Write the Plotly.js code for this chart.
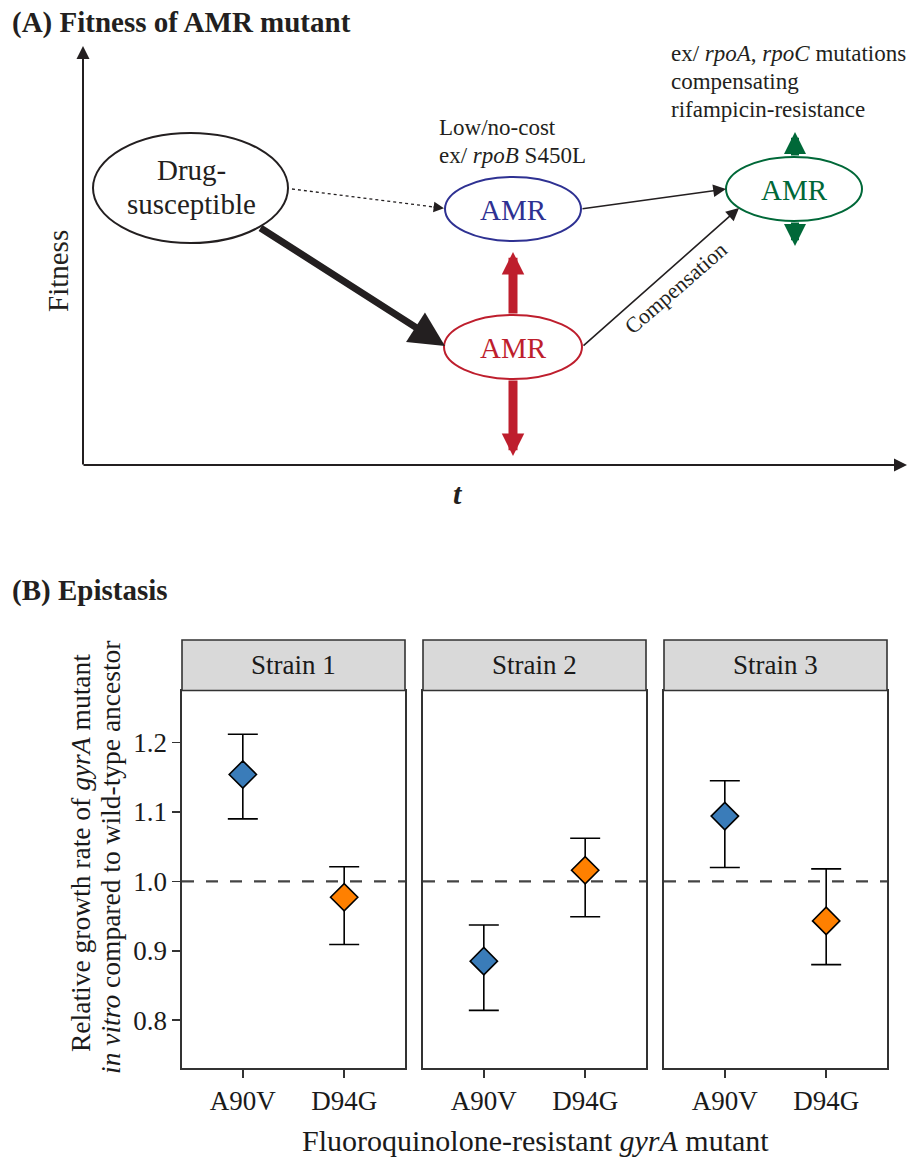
<!DOCTYPE html>
<html><head><meta charset="utf-8">
<script src="https://cdn.plot.ly/plotly-3.0.1.min.js"></script>
<style>html,body{margin:0;padding:0;background:#fff}</style>
</head><body><div id="chart" style="width:915px;height:1161px"></div>
<script>
// ---- Panel B data ----
const strains = ['Strain 1', 'Strain 2', 'Strain 3'];
const mutants = ['A90V', 'D94G'];
const a90vMean = [1.154, 0.885, 1.094];
const a90vLow  = [1.090, 0.814, 1.020];
const a90vHigh = [1.212, 0.937, 1.145];
const d94gMean = [0.977, 1.016, 0.943];
const d94gLow  = [0.909, 0.949, 0.880];
const d94gHigh = [1.021, 1.062, 1.018];
const mutantColors = ['#3a7cb9', '#ff8000'];
const yTickVals = [0.8, 0.9, 1.0, 1.1, 1.2];
const yTickText = ['0.8', '0.9', '1.0', '1.1', '1.2'];
const referenceLevel = 1.0;

const SERIF = 'Liberation Serif, Times New Roman, serif';
const W = 915, H = 1161;
const px = v => v / W;
const py = v => 1 - v / H;

// facet geometry (pixels)
const panelX = [[182, 405], [423, 646], [664, 887]];
const panelTop = 690.5, panelBottom = 1068, stripTop = 640;

const traces = [];
strains.forEach((s, i) => {
  const sfx = i === 0 ? '' : String(i + 1);
  const means = [a90vMean[i], d94gMean[i]];
  const lows = [a90vLow[i], d94gLow[i]];
  const highs = [a90vHigh[i], d94gHigh[i]];
  traces.push({
    type: 'scatter', mode: 'markers',
    x: mutants, y: means,
    xaxis: 'x' + sfx, yaxis: 'y' + sfx,
    marker: { symbol: 'diamond', size: 21, color: mutantColors, line: { color: '#000', width: 1.6 } },
    error_y: {
      type: 'data', symmetric: false,
      array: highs.map((h, k) => h - means[k]),
      arrayminus: means.map((m, k) => m - lows[k]),
      color: '#000', thickness: 1.6, width: 15
    },
    hoverinfo: 'skip', showlegend: false
  });
});
// overlay pixel-space axes for the schematic (panel A) and decorations
traces.push({ type: 'scatter', x: [], y: [], xaxis: 'x4', yaxis: 'y4', hoverinfo: 'skip', showlegend: false });

const layout = {
  width: W, height: H,
  margin: { l: 0, r: 0, t: 0, b: 0 },
  paper_bgcolor: '#fff', plot_bgcolor: 'rgba(0,0,0,0)',
  font: { family: SERIF, color: '#1a1a1a', size: 27 },
  showlegend: false,
  xaxis4: { domain: [0, 1], range: [0, W], visible: false, fixedrange: true, anchor: 'y4' },
  yaxis4: { domain: [0, 1], range: [H, 0], visible: false, fixedrange: true, anchor: 'x4' },
  shapes: [], annotations: []
};

strains.forEach((s, i) => {
  const sfx = i === 0 ? '' : String(i + 1);
  layout['xaxis' + sfx] = {
    domain: [px(panelX[i][0]), px(panelX[i][1])], anchor: 'y' + sfx,
    type: 'category', categoryarray: mutants, range: [-0.6, 1.6],
    showline: true, mirror: true, linecolor: '#333', linewidth: 1.6,
    showgrid: false, zeroline: false,
    ticks: 'outside', ticklen: 8, tickwidth: 1.6, tickcolor: '#333',
    tickfont: { family: SERIF, size: 27, color: '#1a1a1a' }, fixedrange: true
  };
  layout['yaxis' + sfx] = {
    domain: [py(panelBottom), py(panelTop)], anchor: 'x' + sfx,
    range: [0.731, 1.275],
    showline: true, mirror: true, linecolor: '#333', linewidth: 1.6,
    showgrid: false, zeroline: false,
    tickvals: yTickVals, ticktext: yTickText,
    ticks: i === 0 ? 'outside' : '', ticklen: 8, tickwidth: 1.6, tickcolor: '#333',
    showticklabels: i === 0,
    tickfont: { family: SERIF, size: 27, color: '#1a1a1a' }, fixedrange: true
  };
  // reference line
  layout.shapes.push({
    type: 'line', xref: 'x' + sfx + ' domain', yref: 'y' + sfx,
    x0: 0, x1: 1, y0: referenceLevel, y1: referenceLevel,
    line: { color: '#444', width: 2.2, dash: '12px,12px' }
  });
  // strip
  layout.shapes.push({
    type: 'rect', xref: 'x4', yref: 'y4',
    x0: panelX[i][0], x1: panelX[i][1], y0: stripTop, y1: panelTop,
    fillcolor: '#d9d9d9', line: { color: '#333', width: 1.6 }
  });
  layout.annotations.push({
    xref: 'x4', yref: 'y4', x: (panelX[i][0] + panelX[i][1]) / 2, y: (stripTop + panelTop) / 2,
    text: s, showarrow: false, font: { family: SERIF, size: 27, color: '#1a1a1a' }
  });
});

const A = layout.annotations, S = layout.shapes;
const txt = (x, y, text, size, opts) => A.push(Object.assign({
  xref: 'x4', yref: 'y4', x, y, text, showarrow: false,
  font: { family: SERIF, size, color: '#231f20' }
}, opts || {}));
const arrow = (x0, y0, x1, y1, color, width, size) => A.push({
  xref: 'x4', yref: 'y4', axref: 'x4', ayref: 'y4',
  x: x1, y: y1, ax: x0, ay: y0, text: '', showarrow: true,
  arrowhead: 2, arrowsize: size, arrowwidth: width, arrowcolor: color, standoff: 0, startstandoff: 0
});
const ellipse = (cx, cy, rx, ry, color) => S.push({
  type: 'circle', xref: 'x4', yref: 'y4', x0: cx - rx, x1: cx + rx, y0: cy - ry, y1: cy + ry,
  line: { color, width: 2 }, fillcolor: 'rgba(0,0,0,0)', layer: 'above'
});

// Titles
txt(10, 22, '<b>(A) Fitness of AMR mutant</b>', 29, { xanchor: 'left', font: { family: SERIF, size: 29, color: '#231f20' } });
txt(10, 590, '<b>(B) Epistasis</b>', 29, { xanchor: 'left', font: { family: SERIF, size: 29, color: '#231f20' } });

// Panel A axes
arrow(83, 466, 83, 46, '#231f20', 2, 1.3);
arrow(82, 465, 907, 465, '#231f20', 2, 1.3);
txt(58, 271, 'Fitness', 29, { textangle: -90 });
txt(458, 493, '<b><i>t</i></b>', 30);

// Nodes
const BLUE = '#2e3192', RED = '#be1e2d', GREEN = '#006838';
ellipse(190.5, 188, 97.5, 55, '#231f20');
txt(191, 170, 'Drug-', 29);
txt(191, 204, 'susceptible', 29);
ellipse(513, 209, 68, 32, BLUE);
txt(513, 210, 'AMR', 29, { font: { family: SERIF, size: 29, color: BLUE } });
ellipse(513, 347, 69, 32, RED);
txt(513, 348, 'AMR', 29, { font: { family: SERIF, size: 29, color: RED } });
ellipse(794, 189, 68, 32, GREEN);
txt(794, 190, 'AMR', 29, { font: { family: SERIF, size: 29, color: GREEN } });

// Edges
S.push({ type: 'line', xref: 'x4', yref: 'y4', x0: 292, y0: 189, x1: 434, y1: 207,
  line: { color: '#231f20', width: 1.3, dash: 'dot' } });
arrow(432, 206.8, 444, 208.3, '#231f20', 1.3, 1.6);
arrow(259, 227, 445, 346, '#231f20', 7, 1);
arrow(581, 209, 726, 189, '#231f20', 1.6, 1.6);
arrow(582, 347, 739, 208, '#231f20', 1.6, 1.6);
txt(675, 288, 'Compensation', 22, { textangle: -41 });

// Fitness shifts
arrow(513, 315, 513, 252, RED, 9, 0.5);
arrow(513, 379, 513, 456, RED, 9, 0.5);
arrow(795, 157, 795, 132, GREEN, 8, 0.55);
arrow(795, 221, 795, 246, GREEN, 8, 0.55);

// Notes
txt(437, 127, 'Low/no-cost', 23, { xanchor: 'left' });
txt(437, 155, 'ex/ <i>rpoB</i> S450L', 23, { xanchor: 'left' });
txt(669, 53, 'ex/ <i>rpoA</i>, <i>rpoC</i> mutations', 23, { xanchor: 'left' });
txt(669, 81, 'compensating', 23, { xanchor: 'left' });
txt(669, 109, 'rifampicin-resistance', 23, { xanchor: 'left' });

// Panel B axis titles
txt(80, 853, 'Relative growth rate of <i>gyrA</i> mutant', 27.5, { textangle: -90, font: { family: SERIF, size: 27.5, color: '#1a1a1a' } });
txt(110, 857, '<i>in vitro</i> compared to wild-type ancestor', 27.5, { textangle: -90, font: { family: SERIF, size: 27.5, color: '#1a1a1a' } });
txt(535, 1140, 'Fluoroquinolone-resistant <i>gyrA</i> mutant', 30, { font: { family: SERIF, size: 30, color: '#1a1a1a' } });

Plotly.newPlot('chart', traces, layout, { staticPlot: true, displayModeBar: false });
</script>
</body></html>
